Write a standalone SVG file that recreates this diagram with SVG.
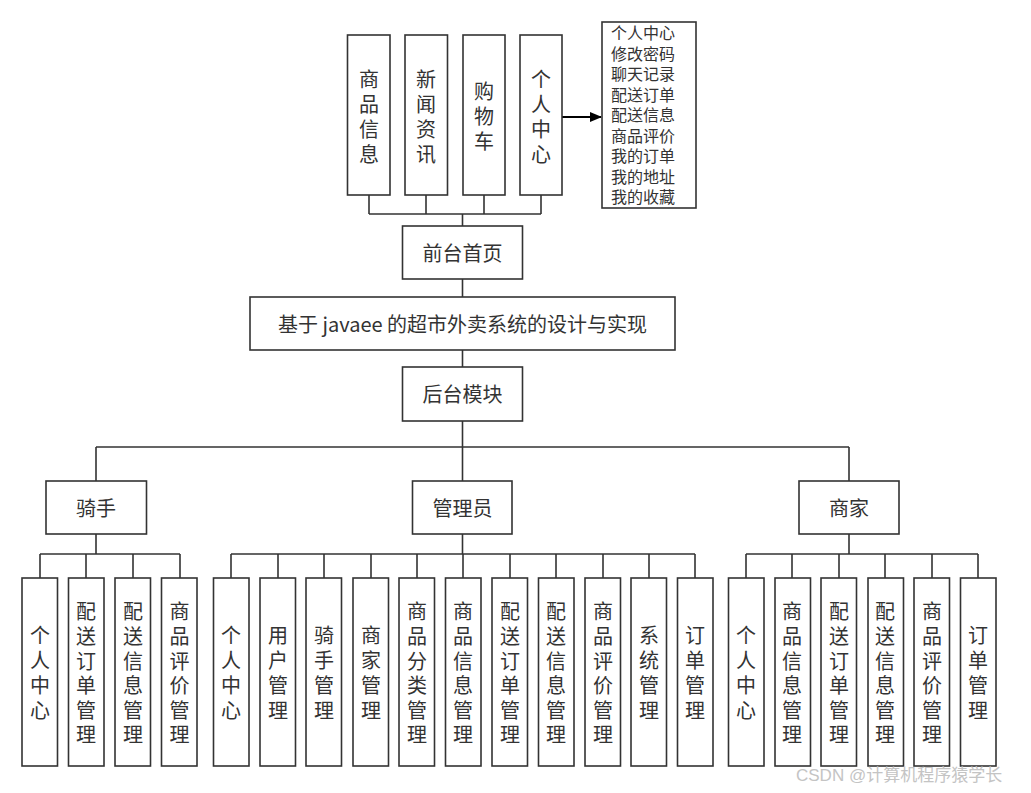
<svg xmlns="http://www.w3.org/2000/svg" width="1031" height="793" viewBox="0 0 1031 793">
<defs>
<style>
rect.b{fill:#fff;stroke:#333;stroke-width:1.6}
.t{font-family:"Noto Sans CJK SC","Liberation Sans",sans-serif;font-size:20px;fill:#333;text-anchor:middle;dominant-baseline:central}
.l{font-family:"Noto Sans CJK SC","Liberation Sans",sans-serif;font-size:16px;fill:#333}
.c{fill:none;stroke:#333;stroke-width:1.6}
.wm{font-family:"Liberation Sans","Noto Sans CJK SC",sans-serif;font-size:17px;fill:#c4c4c4}
</style>
<marker id="ah" markerWidth="12" markerHeight="10" refX="11" refY="5" orient="auto" markerUnits="userSpaceOnUse"><path d="M0,0 L12,5 L0,10 Z" fill="#000"/></marker>
</defs>
<rect width="1031" height="793" fill="#fff"/>
<g id="connectors">
<path class="c" d="M369,195V214M426,195V214M484,195V214M541,195V214M369,214H541M462.5,214V226M462.5,279V297M462.5,350V367M462.5,421V447M96,447H849M96,447V481M462.5,447V481M849,447V481"/>
<path class="c" d="M96,534V554M40,554H180M40,554V578M86,554V578M133,554V578M180,554V578"/>
<path class="c" d="M462.5,534V554M231,554H695M231,554V578M278,554V578M324,554V578M371,554V578M417,554V578M463,554V578M510,554V578M556,554V578M603,554V578M649,554V578M695,554V578"/>
<path class="c" d="M849,534V554M746,554H978M746,554V578M792,554V578M839,554V578M885,554V578M932,554V578M978,554V578"/>
<path d="M562,117H601" stroke="#000" stroke-width="2" fill="none" marker-end="url(#ah)"/>
</g>
<g id="n-spxx"><rect class="b" x="347.5" y="35" width="42.5" height="160"/><text class="t" x="369" y="78">商</text><text class="t" x="369" y="103">品</text><text class="t" x="369" y="128">信</text><text class="t" x="369" y="153">息</text></g>
<g id="n-xwzx"><rect class="b" x="405" y="35" width="42.5" height="160"/><text class="t" x="426" y="78">新</text><text class="t" x="426" y="103">闻</text><text class="t" x="426" y="128">资</text><text class="t" x="426" y="153">讯</text></g>
<g id="n-gwc"><rect class="b" x="463" y="35" width="42" height="160"/><text class="t" x="484" y="90">购</text><text class="t" x="484" y="115">物</text><text class="t" x="484" y="140">车</text></g>
<g id="n-grzx"><rect class="b" x="520" y="35" width="42" height="160"/><text class="t" x="541" y="78">个</text><text class="t" x="541" y="103">人</text><text class="t" x="541" y="128">中</text><text class="t" x="541" y="153">心</text></g>
<g id="n-list"><rect class="b" x="602" y="22" width="94" height="186"/>
<text class="l" x="611" y="39">个人中心</text><text class="l" x="611" y="59.5">修改密码</text><text class="l" x="611" y="80">聊天记录</text><text class="l" x="611" y="100.5">配送订单</text><text class="l" x="611" y="121">配送信息</text><text class="l" x="611" y="141.5">商品评价</text><text class="l" x="611" y="162">我的订单</text><text class="l" x="611" y="182.5">我的地址</text><text class="l" x="611" y="203">我的收藏</text></g>
<g id="n-qtsy"><rect class="b" x="402.5" y="226" width="120" height="53"/><text class="t" x="462.5" y="252">前台首页</text></g>
<g id="n-title"><rect class="b" x="250" y="297" width="425" height="53"/><text class="t" x="462.5" y="323">基于 javaee 的超市外卖系统的设计与实现</text></g>
<g id="n-htmk"><rect class="b" x="402.5" y="367" width="120" height="54"/><text class="t" x="462.5" y="393">后台模块</text></g>
<g id="n-qs"><rect class="b" x="46" y="481" width="100.5" height="53"/><text class="t" x="96" y="507">骑手</text></g>
<g id="n-gly"><rect class="b" x="412.5" y="481" width="99.5" height="53"/><text class="t" x="462.5" y="507">管理员</text></g>
<g id="n-sj"><rect class="b" x="799" y="481" width="100" height="53"/><text class="t" x="849" y="507">商家</text></g>
<g id="q1"><rect class="b" x="22" y="578" width="35.5" height="188"/><text class="t" x="40" y="634">个</text><text class="t" x="40" y="659">人</text><text class="t" x="40" y="684">中</text><text class="t" x="40" y="709">心</text></g>
<g id="q2"><rect class="b" x="68.5" y="578" width="35.5" height="188"/><text class="t" x="86" y="610">配</text><text class="t" x="86" y="635">送</text><text class="t" x="86" y="660">订</text><text class="t" x="86" y="684">单</text><text class="t" x="86" y="709">管</text><text class="t" x="86" y="733">理</text></g>
<g id="q3"><rect class="b" x="115" y="578" width="35.5" height="188"/><text class="t" x="133" y="610">配</text><text class="t" x="133" y="635">送</text><text class="t" x="133" y="660">信</text><text class="t" x="133" y="684">息</text><text class="t" x="133" y="709">管</text><text class="t" x="133" y="733">理</text></g>
<g id="q4"><rect class="b" x="161.5" y="578" width="35.5" height="188"/><text class="t" x="179.5" y="610">商</text><text class="t" x="179.5" y="635">品</text><text class="t" x="179.5" y="660">评</text><text class="t" x="179.5" y="684">价</text><text class="t" x="179.5" y="709">管</text><text class="t" x="179.5" y="733">理</text></g>
<g id="a1"><rect class="b" x="213.5" y="578" width="35.5" height="188"/><text class="t" x="231" y="634">个</text><text class="t" x="231" y="659">人</text><text class="t" x="231" y="684">中</text><text class="t" x="231" y="709">心</text></g>
<g id="a2"><rect class="b" x="260" y="578" width="35.5" height="188"/><text class="t" x="278" y="634">用</text><text class="t" x="278" y="659">户</text><text class="t" x="278" y="684">管</text><text class="t" x="278" y="709">理</text></g>
<g id="a3"><rect class="b" x="306" y="578" width="35.5" height="188"/><text class="t" x="324" y="634">骑</text><text class="t" x="324" y="659">手</text><text class="t" x="324" y="684">管</text><text class="t" x="324" y="709">理</text></g>
<g id="a4"><rect class="b" x="353" y="578" width="35.5" height="188"/><text class="t" x="371" y="634">商</text><text class="t" x="371" y="659">家</text><text class="t" x="371" y="684">管</text><text class="t" x="371" y="709">理</text></g>
<g id="a5"><rect class="b" x="399" y="578" width="35.5" height="188"/><text class="t" x="417" y="610">商</text><text class="t" x="417" y="635">品</text><text class="t" x="417" y="660">分</text><text class="t" x="417" y="684">类</text><text class="t" x="417" y="709">管</text><text class="t" x="417" y="733">理</text></g>
<g id="a6"><rect class="b" x="445.5" y="578" width="35.5" height="188"/><text class="t" x="463" y="610">商</text><text class="t" x="463" y="635">品</text><text class="t" x="463" y="660">信</text><text class="t" x="463" y="684">息</text><text class="t" x="463" y="709">管</text><text class="t" x="463" y="733">理</text></g>
<g id="a7"><rect class="b" x="492" y="578" width="35.5" height="188"/><text class="t" x="510" y="610">配</text><text class="t" x="510" y="635">送</text><text class="t" x="510" y="660">订</text><text class="t" x="510" y="684">单</text><text class="t" x="510" y="709">管</text><text class="t" x="510" y="733">理</text></g>
<g id="a8"><rect class="b" x="538.5" y="578" width="35.5" height="188"/><text class="t" x="556" y="610">配</text><text class="t" x="556" y="635">送</text><text class="t" x="556" y="660">信</text><text class="t" x="556" y="684">息</text><text class="t" x="556" y="709">管</text><text class="t" x="556" y="733">理</text></g>
<g id="a9"><rect class="b" x="585" y="578" width="35.5" height="188"/><text class="t" x="603" y="610">商</text><text class="t" x="603" y="635">品</text><text class="t" x="603" y="660">评</text><text class="t" x="603" y="684">价</text><text class="t" x="603" y="709">管</text><text class="t" x="603" y="733">理</text></g>
<g id="a10"><rect class="b" x="631" y="578" width="35.5" height="188"/><text class="t" x="649" y="634">系</text><text class="t" x="649" y="659">统</text><text class="t" x="649" y="684">管</text><text class="t" x="649" y="709">理</text></g>
<g id="a11"><rect class="b" x="677.5" y="578" width="35.5" height="188"/><text class="t" x="695" y="634">订</text><text class="t" x="695" y="659">单</text><text class="t" x="695" y="684">管</text><text class="t" x="695" y="709">理</text></g>
<g id="m1"><rect class="b" x="728.5" y="578" width="35.5" height="188"/><text class="t" x="746" y="634">个</text><text class="t" x="746" y="659">人</text><text class="t" x="746" y="684">中</text><text class="t" x="746" y="709">心</text></g>
<g id="m2"><rect class="b" x="775" y="578" width="35.5" height="188"/><text class="t" x="792" y="610">商</text><text class="t" x="792" y="635">品</text><text class="t" x="792" y="660">信</text><text class="t" x="792" y="684">息</text><text class="t" x="792" y="709">管</text><text class="t" x="792" y="733">理</text></g>
<g id="m3"><rect class="b" x="821" y="578" width="35.5" height="188"/><text class="t" x="839" y="610">配</text><text class="t" x="839" y="635">送</text><text class="t" x="839" y="660">订</text><text class="t" x="839" y="684">单</text><text class="t" x="839" y="709">管</text><text class="t" x="839" y="733">理</text></g>
<g id="m4"><rect class="b" x="868" y="578" width="35.5" height="188"/><text class="t" x="885" y="610">配</text><text class="t" x="885" y="635">送</text><text class="t" x="885" y="660">信</text><text class="t" x="885" y="684">息</text><text class="t" x="885" y="709">管</text><text class="t" x="885" y="733">理</text></g>
<g id="m5"><rect class="b" x="914" y="578" width="35.5" height="188"/><text class="t" x="932" y="610">商</text><text class="t" x="932" y="635">品</text><text class="t" x="932" y="660">评</text><text class="t" x="932" y="684">价</text><text class="t" x="932" y="709">管</text><text class="t" x="932" y="733">理</text></g>
<g id="m6"><rect class="b" x="960.5" y="578" width="35.5" height="188"/><text class="t" x="978" y="634">订</text><text class="t" x="978" y="659">单</text><text class="t" x="978" y="684">管</text><text class="t" x="978" y="709">理</text></g>
<text class="wm" x="796" y="781">CSDN @计算机程序猿学长</text>
</svg>
